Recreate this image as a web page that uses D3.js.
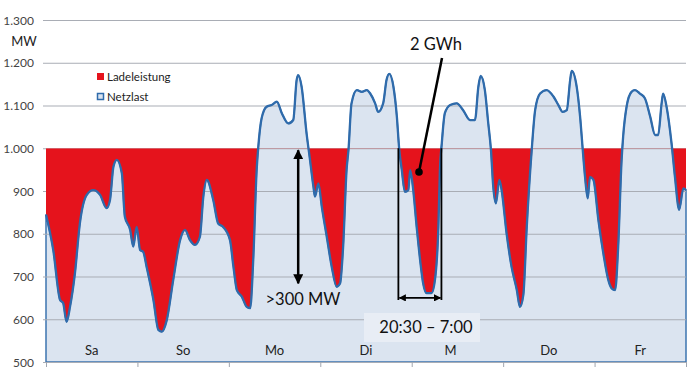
<!DOCTYPE html>
<html>
<head>
<meta charset="utf-8">
<script src="https://cdn.jsdelivr.net/npm/d3@7"></script>
<style>
  body { margin: 0; background: #fff; }
  svg { display: block; font-family: Lato, "Open Sans", sans-serif; }
</style>
</head>
<body>
<svg width="700" height="370"></svg>
<script>
// hours since Saturday 0:00 and grid load in MW
const hours = [0, 1.9, 3.7, 4.5, 5.4, 6.3, 7.6, 8.9, 10.7, 12.4, 14.2, 15.9, 16.8, 17.7, 18.6, 19.9,
  20.7, 22.1, 22.9, 23.8, 24.7, 25.5, 26.4, 28.2, 29.5, 30.4, 31.7, 33.4, 35.2, 36.5, 37.8, 39.1,
  40.4, 41.3, 42.2, 43.9, 45.2, 46.5, 48.3, 49.2, 50.1, 51.4, 52.7, 53.6, 54.4, 55.3, 55.7, 56.6,
  57.9, 59.2, 60.6, 61.9, 63.6, 64.9, 65.8, 66.2, 67.1, 68.4, 69.3, 70.2, 70.6, 71.5, 72.4, 73.7,
  75.0, 76.3, 77.2, 78.0, 78.9, 79.4, 80.2, 81.6, 82.9, 84.2, 85.1, 86.4, 87.2, 88.5, 89.4, 90.1,
  91.2, 92.1, 92.7, 93.4, 94.2, 95.1, 95.6, 96.3, 97.3, 98.2, 99.0, 99.9, 101.2, 102.1, 103.0, 103.4,
  103.9, 104.7, 106.1, 107.8, 109.5, 111.3, 112.6, 113.5, 114.1, 115.2, 116.1, 116.8, 117.4, 118.1,
  119.0, 119.6, 120.9, 122.2, 123.6, 124.4, 125.3, 126.2, 127.5, 128.4, 129.7, 131.4, 133.2, 134.5,
  135.6, 136.7, 137.6, 138.0, 139.3, 140.2, 140.9, 141.5, 142.2, 142.8, 143.7, 145.0, 146.3, 147.6,
  148.5, 149.4, 150.2, 151.1, 151.5, 152.4, 153.7, 154.6, 155.9, 157.2, 158.6, 159.9, 160.7, 161.6,
  162.0, 162.9, 164.2, 165.1, 166.2, 167.3, 168];
const netzlast = [845, 762, 645, 638, 594, 629, 708, 825, 891, 902, 891, 860, 879, 957, 973, 942,
  840, 809, 770, 816, 762, 758, 723, 645, 575, 571, 598, 692, 785, 809, 785, 774,
  793, 887, 926, 879, 824, 816, 785, 723, 668, 653, 629, 626, 739, 949, 1000, 1070,
  1097, 1101, 1109, 1082, 1058, 1066, 1160, 1171, 1144, 1035, 973, 910, 887, 918, 863, 793,
  723, 676, 684, 770, 949, 996, 1105, 1136, 1132, 1136, 1128, 1105, 1085, 1105, 1160, 1174,
  1144, 1074, 1000, 949, 898, 902, 949, 910, 816, 739, 684, 661, 661, 692, 816, 949,
  1012, 1082, 1101, 1105, 1089, 1066, 1066, 1144, 1169, 1136, 1058, 996, 910, 871,
  926, 902, 801, 723, 668, 629, 657, 816, 996, 1089, 1128, 1136, 1121, 1101,
  1085, 1089, 1160, 1181, 1144, 1074, 996, 933, 883, 933, 926, 832, 754, 692,
  672, 668, 770, 973, 1027, 1097, 1132, 1136, 1128, 1117, 1074, 1031, 1031, 1105,
  1128, 1097, 1012, 933, 856, 906, 902];

const days = ["Sa", "So", "Mo", "Di", "M", "Do", "Fr"];
const yTicks = [500, 600, 700, 800, 900, 1000, 1100, 1200, 1300];
const ladeGrenze = 1000;      // charging fills up to this level
const ladeFenster = [92.5, 103.8]; // Di 20:30 -> M ~7:00
const hubPos = 66.2;          // >300 MW arrow
const hubBis = 684;

const data = hours.map((h, i) => ({h, v: netzlast[i]}));

const svg = d3.select("svg");
const x = d3.scaleLinear().domain([0, 168]).range([46, 686]);
const y = d3.scaleLinear().domain([500, 1300]).range([362, 20]);
const de = d3.formatLocale({decimal: ",", thousands: ".", grouping: [3], currency: ["", " €"]});
const curve = d3.curveMonotoneX;

const defs = svg.append("defs");
defs.append("marker")
  .attr("id", "arr").attr("viewBox", "0 0 10 10").attr("refX", 9).attr("refY", 5)
  .attr("markerWidth", 4).attr("markerHeight", 4).attr("orient", "auto-start-reverse")
  .append("path").attr("d", "M0,0L10,5L0,10z").attr("fill", "#000");
defs.append("clipPath").attr("id", "unten")
  .append("rect").attr("x", x(0)).attr("y", y(ladeGrenze))
  .attr("width", x(168) - x(0)).attr("height", y(500) - y(ladeGrenze));

// light blue load area
svg.append("path").datum(data)
  .attr("fill", "#dbe4f0")
  .attr("stroke", "#3d74b0").attr("stroke-width", 1.5)
  .attr("d", d3.area().curve(curve).x(d => x(d.h)).y0(y(500)).y1(d => y(d.v)));

// gridlines + y labels
svg.append("g").selectAll("line").data(yTicks).join("line")
  .attr("x1", 43).attr("x2", 686)
  .attr("y1", d => y(d) + 0.5).attr("y2", d => y(d) + 0.5)
  .attr("stroke", "#a9adb5").attr("stroke-width", 1);
svg.append("g").selectAll("text").data(yTicks).join("text")
  .attr("x", 34).attr("y", d => y(d) + 4.5)
  .attr("text-anchor", "end").attr("font-size", 12).attr("fill", "#444")
  .text(d => de.format(",")(d));

// red charging area: between load and 1000 MW, only below 1000
svg.append("path").datum(data)
  .attr("fill", "#e5131c").attr("clip-path", "url(#unten)")
  .attr("d", d3.area().curve(curve).x(d => x(d.h)).y0(y(ladeGrenze)).y1(d => y(d.v)));

// load line
svg.append("path").datum(data)
  .attr("fill", "none").attr("stroke", "#2f6bab").attr("stroke-width", 2.3)
  .attr("stroke-linejoin", "round")
  .attr("d", d3.line().curve(curve).x(d => x(d.h)).y(d => y(d.v)));

// bottom ticks
svg.append("g").attr("transform", `translate(0,${y(500)})`)
  .call(d3.axisBottom(x).tickValues(d3.range(0, 169, 24)).tickSize(5).tickFormat(""))
  .call(g => g.select(".domain").remove())
  .call(g => g.selectAll("line").attr("stroke", "#a0a6b0"));

svg.append("text").attr("x", 24).attr("y", 46).attr("text-anchor", "middle")
  .attr("font-size", 13).attr("fill", "#222").text("MW");

// legend
const leg = svg.append("g").attr("font-size", 11.5).attr("fill", "#222");
leg.append("rect").attr("x", 97).attr("y", 73).attr("width", 7).attr("height", 7).attr("fill", "#e5131c");
leg.append("text").attr("x", 107).attr("y", 81).text("Ladeleistung");
leg.append("rect").attr("x", 97.5).attr("y", 93.5).attr("width", 6).attr("height", 6)
  .attr("fill", "#dbe4f0").attr("stroke", "#2f6bab").attr("stroke-width", 1.5);
leg.append("text").attr("x", 107).attr("y", 101).text("Netzlast");

// annotations
const ann = svg.append("g").attr("stroke", "#000").attr("fill", "none");
ann.append("line").attr("x1", x(hubPos)).attr("x2", x(hubPos))
  .attr("y1", y(ladeGrenze) + 2).attr("y2", y(hubBis))
  .attr("stroke-width", 2.5).attr("marker-start", "url(#arr)").attr("marker-end", "url(#arr)");
ann.append("path").attr("stroke-width", 1.8)
  .attr("d", `M${x(ladeFenster[0])},${y(ladeGrenze)}V${y(645)}M${x(ladeFenster[1])},${y(ladeGrenze)}V${y(645)}`);
ann.append("line").attr("x1", x(ladeFenster[0]) + 1).attr("x2", x(ladeFenster[1]) - 1)
  .attr("y1", y(650)).attr("y2", y(650))
  .attr("stroke-width", 1.8).attr("marker-start", "url(#arr)").attr("marker-end", "url(#arr)");
ann.append("line").attr("x1", 442).attr("y1", 58).attr("x2", 419).attr("y2", 172).attr("stroke-width", 2.5);
svg.append("circle").attr("cx", 419).attr("cy", 172).attr("r", 3.8).attr("fill", "#000");

svg.append("rect").attr("x", 364).attr("y", 313).attr("width", 116).attr("height", 29).attr("fill", "#e8edf5");

const lbl = svg.append("g").attr("font-size", 16.5).attr("fill", "#111").attr("text-anchor", "middle");
lbl.append("text").attr("x", 436).attr("y", 50).text("2 GWh");
lbl.append("text").attr("x", 303).attr("y", 305).text(">300 MW");
lbl.append("text").attr("x", 426).attr("y", 333).text("20:30 – 7:00");

// day labels
svg.append("g").selectAll("text").data(days).join("text")
  .attr("x", (d, i) => d === "M" ? x(i * 24 + 12) - 7 : x(i * 24 + 12))
  .attr("y", 355).attr("text-anchor", "middle").attr("font-size", 13).attr("fill", "#222")
  .text(d => d);
</script>
</body>
</html>
